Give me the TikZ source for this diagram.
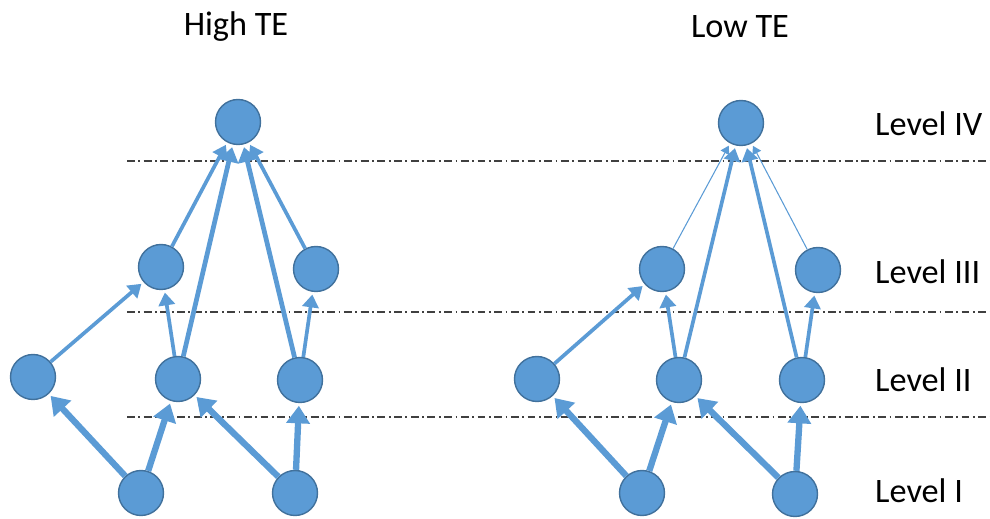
\documentclass[tikz,border=0pt]{standalone}
\usepackage{fontspec}
\setmainfont{Carlito}
\usetikzlibrary{arrows.meta}
\definecolor{nodeblue}{HTML}{5B9BD5}
\definecolor{nodeline}{HTML}{41719C}
\tikzset{
	vtx/.style={circle, fill=nodeblue, draw=nodeline, line width=0.8pt, minimum size=0.9cm, inner sep=0pt},
	lnk/.style={draw=nodeblue, -{Triangle[length=3.5pt 1.8, width=4pt 2.5]}, shorten >=1.5pt},
	heavy/.style={lnk, line width=3.6pt},
	bold/.style={lnk, line width=2.7pt},
	mid/.style={lnk, line width=2.1pt},
	faint/.style={lnk, line width=0.6pt},
	lvl/.style={anchor=west, font=\fontsize{19.5}{23}\selectfont},
	ttl/.style={font=\fontsize{19.5}{23}\selectfont},
	sep/.style={draw=black!75, line width=0.6pt, dash pattern=on 4.5pt off 2pt on 1pt off 2pt}
}

\begin{document}
\begin{tikzpicture}[x=0.02cm, y=-0.02cm]
		%%%%% START %%%%%
		\useasboundingbox (0, 0) rectangle (990, 519);
		
		\node[ttl] (hightitle) at (236, 27) {High TE};
		\node[ttl] (lowtitle) at (740, 27) {Low TE};
		
		\draw[sep] (127, 161) -- (990, 161);
		\draw[sep] (127, 312) -- (990, 312);
		\draw[sep] (127, 417) -- (990, 417);
		
		\node[lvl] (lvfour) at (869, 124) {Level IV};
		\node[lvl] (lvthree) at (869, 272) {Level III};
		\node[lvl] (lvtwo) at (869, 380) {Level II};
		\node[lvl] (lvone) at (869, 491) {Level I};
		
		%%%%% HIGH TE %%%%%
		\node[vtx] (hfour) at (238, 122) {};
		\node[vtx] (hthreea) at (161, 267) {};
		\node[vtx] (hthreeb) at (316, 269) {};
		\node[vtx] (htwoa) at (33, 377) {};
		\node[vtx] (htwob) at (178, 379) {};
		\node[vtx] (htwoc) at (300, 380) {};
		\node[vtx] (honea) at (141, 493) {};
		\node[vtx] (honeb) at (295, 493) {};
		
		\draw[heavy] (honea) -- (htwoa);
		\draw[heavy] (honea) -- (htwob);
		\draw[heavy] (honeb) -- (htwob);
		\draw[heavy] (honeb) -- (htwoc);
		\draw[mid] (htwoa) -- (hthreea);
		\draw[mid] (htwob) -- (hthreea);
		\draw[mid] (htwoc) -- (hthreeb);
		\draw[bold] (htwob) -- (hfour);
		\draw[bold] (htwoc) -- (hfour);
		\draw[mid] (hthreea) -- (hfour);
		\draw[mid] (hthreeb) -- (hfour);
		
		%%%%% LOW TE %%%%%
		\node[vtx] (lfour) at (741, 123) {};
		\node[vtx] (lthreea) at (662, 269) {};
		\node[vtx] (lthreeb) at (818, 270) {};
		\node[vtx] (ltwoa) at (537, 379) {};
		\node[vtx] (ltwob) at (679, 380) {};
		\node[vtx] (ltwoc) at (802, 380) {};
		\node[vtx] (lonea) at (642, 493) {};
		\node[vtx] (loneb) at (795, 494) {};
		
		\draw[heavy] (lonea) -- (ltwoa);
		\draw[heavy] (lonea) -- (ltwob);
		\draw[heavy] (loneb) -- (ltwob);
		\draw[heavy] (loneb) -- (ltwoc);
		\draw[mid] (ltwoa) -- (lthreea);
		\draw[mid] (ltwob) -- (lthreea);
		\draw[mid] (ltwoc) -- (lthreeb);
		\draw[mid] (ltwob) -- (lfour);
		\draw[mid] (ltwoc) -- (lfour);
		\draw[faint] (lthreea) -- (lfour);
		\draw[faint] (lthreeb) -- (lfour);
		
		%%%%% END %%%%%
\end{tikzpicture}
\end{document}
